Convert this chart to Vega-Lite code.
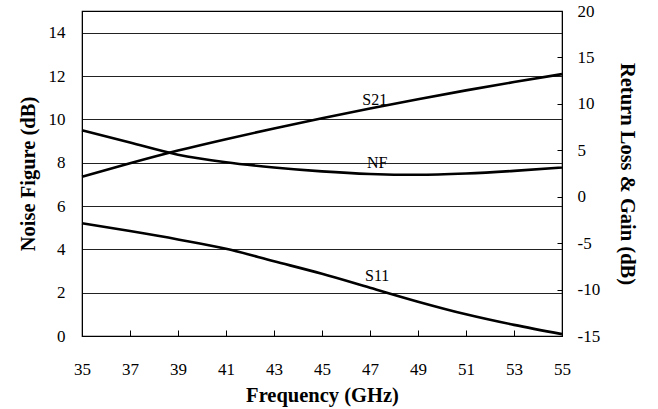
{
  "$schema": "https://vega.github.io/schema/vega-lite/v6.json",
  "autosize": {"type": "none"},
  "padding": {"left": 82, "top": 11, "right": 96, "bottom": 73},
  "width": 480,
  "height": 325,
  "background": "white",
  "config": {
    "view": {"stroke": "black", "strokeWidth": 1.2},
    "font": "Liberation Serif",
    "style": {
      "guide-label": {"font": "Liberation Serif", "fontSize": 17, "fill": "black"},
      "guide-title": {"font": "Liberation Serif", "fontSize": 20.5, "fontWeight": "bold", "fill": "black"}
    },
    "axis": {
      "labelFont": "Liberation Serif",
      "titleFont": "Liberation Serif",
      "labelFontSize": 17,
      "titleFontSize": 20.5,
      "titleFontWeight": "bold",
      "labelColor": "black",
      "titleColor": "black",
      "domainColor": "black",
      "tickColor": "black",
      "gridColor": "#222",
      "gridWidth": 1,
      "gridOpacity": 1
    }
  },
  "datasets": {
    "nf": [
      {"freq": 35, "value": 9.5},
      {"freq": 37, "value": 8.93},
      {"freq": 39, "value": 8.37},
      {"freq": 41, "value": 8.02},
      {"freq": 43, "value": 7.78},
      {"freq": 45, "value": 7.6},
      {"freq": 47, "value": 7.48},
      {"freq": 49, "value": 7.44},
      {"freq": 51, "value": 7.5},
      {"freq": 53, "value": 7.62},
      {"freq": 55, "value": 7.78}
    ],
    "rl": [
      {"freq": 35, "series": "S21", "value": 2.15},
      {"freq": 37, "series": "S21", "value": 3.6},
      {"freq": 39, "series": "S21", "value": 4.97},
      {"freq": 41, "series": "S21", "value": 6.2},
      {"freq": 43, "series": "S21", "value": 7.35},
      {"freq": 45, "series": "S21", "value": 8.45},
      {"freq": 47, "series": "S21", "value": 9.5},
      {"freq": 49, "series": "S21", "value": 10.5},
      {"freq": 51, "series": "S21", "value": 11.45},
      {"freq": 53, "series": "S21", "value": 12.35},
      {"freq": 55, "series": "S21", "value": 13.2},
      {"freq": 35, "series": "S11", "value": -2.86},
      {"freq": 37, "series": "S11", "value": -3.7},
      {"freq": 39, "series": "S11", "value": -4.6},
      {"freq": 41, "series": "S11", "value": -5.6},
      {"freq": 43, "series": "S11", "value": -6.95},
      {"freq": 45, "series": "S11", "value": -8.3},
      {"freq": 47, "series": "S11", "value": -9.8},
      {"freq": 49, "series": "S11", "value": -11.3},
      {"freq": 51, "series": "S11", "value": -12.66},
      {"freq": 53, "series": "S11", "value": -13.8},
      {"freq": 55, "series": "S11", "value": -14.8}
    ],
    "labels": [
      {"freq": 47.2, "value": 10.41, "label": "S21"},
      {"freq": 47.3, "value": 3.68, "label": "NF"},
      {"freq": 47.3, "value": -8.54, "label": "S11"}
    ]
  },
  "encoding": {
    "x": {
      "field": "freq",
      "type": "quantitative",
      "scale": {"domain": [35, 55], "nice": false},
      "axis": {
        "title": "Frequency (GHz)",
        "values": [35, 37, 39, 41, 43, 45, 47, 49, 51, 53, 55],
        "grid": false,
        "tickSize": -6,
        "labelFont": "Liberation Serif",
        "labelPadding": 31,
        "titlePadding": 8,
        "labelFlush": false
      }
    }
  },
  "layer": [
    {
      "data": {"name": "nf"},
      "mark": {"type": "line", "color": "black", "strokeWidth": 2.6, "interpolate": "monotone"},
      "encoding": {
        "y": {
          "field": "value",
          "type": "quantitative",
          "scale": {"domain": [0, 15], "nice": false, "zero": false},
          "axis": {
            "title": "Noise Figure (dB)",
            "orient": "left",
            "values": [0, 2, 4, 6, 8, 10, 12, 14],
            "grid": true,
            "ticks": false,
            "labelFont": "Liberation Serif",
            "labelPadding": 17,
            "titlePadding": 10
          }
        }
      }
    },
    {
      "layer": [
        {
          "data": {"name": "rl"},
          "mark": {"type": "line", "color": "black", "strokeWidth": 2.6, "interpolate": "monotone"},
          "encoding": {
            "detail": {"field": "series"},
            "y": {
              "field": "value",
              "type": "quantitative",
              "scale": {"domain": [-15, 20], "nice": false, "zero": false},
              "axis": {
                "title": "Return Loss & Gain (dB)",
                "orient": "right",
                "values": [-15, -10, -5, 0, 5, 10, 15, 20],
                "labelExpr": "toString(datum.value)",
                "grid": false,
                "tickSize": -5,
                "labelFont": "Liberation Serif",
                "labelPadding": 20,
                "titlePadding": 17
              }
            }
          }
        },
        {
          "data": {"name": "labels"},
          "mark": {"type": "text", "font": "Liberation Serif", "fontSize": 16, "color": "black", "baseline": "middle", "align": "center"},
          "encoding": {
            "text": {"field": "label"},
            "y": {"field": "value", "type": "quantitative"}
          }
        }
      ]
    }
  ],
  "resolve": {"scale": {"y": "independent"}}
}
